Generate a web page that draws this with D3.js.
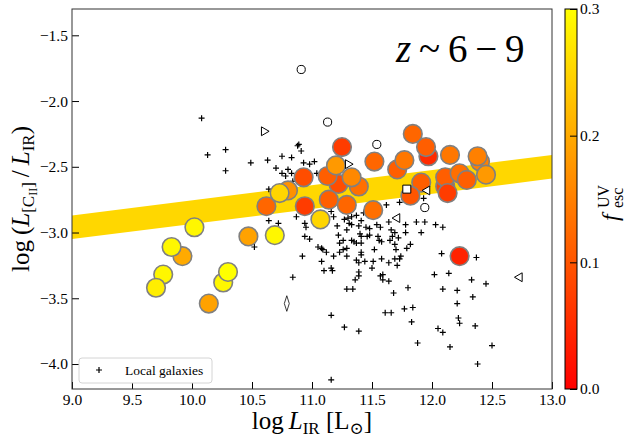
<!DOCTYPE html>
<meta charset="utf-8">
<style>
body { margin: 0; background: #fff; }
text { font-family: "Liberation Serif", "DejaVu Serif", serif; fill: #000; }
</style>
<svg width="635" height="438"></svg>
<script src="https://cdn.jsdelivr.net/npm/d3@7"></script>
<script>

// high-z galaxies: log L_IR, log(L_CII/L_IR), f_esc
var highX = [9.92, 9.83, 10.02, 9.76, 9.70, 10.26, 10.30, 10.14, 10.47, 10.69,
             10.62, 10.80, 10.73, 10.94, 10.93, 11.07, 11.25, 11.22, 11.13, 11.20,
             11.39, 11.33, 11.14, 11.29, 11.51, 11.52, 11.71, 11.77, 11.84, 11.97,
             11.95, 12.15, 12.40, 12.38, 12.45, 12.11, 12.11, 12.13, 12.23, 12.29,
             11.91, 11.82, 12.23];
var highY = [-3.18, -3.11, -2.96, -3.32, -3.42, -3.38, -3.30, -3.54, -3.03, -3.02,
             -2.80, -2.68, -2.70, -2.80, -2.58, -2.90, -2.35, -2.63, -2.57, -2.49,
             -2.65, -2.58, -2.75, -2.79, -2.83, -2.46, -2.52, -2.45, -2.25, -2.42,
             -2.35, -2.41, -2.46, -2.42, -2.56, -2.65, -2.58, -2.70, -2.55, -2.60,
             -2.62, -2.72, -3.18];
var highF = [0.20, 0.29, 0.29, 0.29, 0.28, 0.29, 0.30, 0.19, 0.19, 0.29,
             0.12, 0.17, 0.25, 0.07, 0.09, 0.25, 0.07, 0.09, 0.11, 0.18,
             0.13, 0.16, 0.11, 0.12, 0.13, 0.12, 0.11, 0.14, 0.12, 0.05,
             0.11, 0.14, 0.15, 0.15, 0.18, 0.08, 0.11, 0.07, 0.13, 0.11,
             0.11, 0.10, 0.04];

// local galaxies
var localX = [10.08, 10.13, 10.28, 10.28, 10.49, 10.63, 10.75, 10.83, 10.88, 10.89,
              10.91, 10.70, 10.80, 10.75, 10.78, 10.83, 10.93, 10.98, 11.02, 11.04,
              10.64, 10.84, 10.64, 10.72, 10.52, 10.87, 10.95, 10.94, 10.98, 10.92,
              10.84, 11.05, 11.08, 11.09, 11.12, 11.08, 11.16, 11.18, 11.16, 11.18,
              11.21, 11.22, 11.23, 11.29, 11.26, 11.27, 11.30, 11.31, 11.29, 11.33,
              11.35, 11.26, 11.29, 11.10, 11.17, 11.33, 11.37, 11.39, 11.40, 11.41,
              11.41, 11.41, 11.44, 11.39, 11.39, 11.39, 11.36, 11.29, 11.34, 11.41,
              11.45, 11.47, 11.43, 11.48, 11.51, 11.50, 11.57, 11.58, 11.59, 11.64,
              11.64, 11.52, 11.56, 11.58, 11.54, 11.57, 11.62, 11.73, 11.64, 11.66,
              11.69, 11.67, 11.72, 11.65, 11.69, 11.70, 11.79, 11.82, 11.73, 11.69,
              11.74, 11.71, 11.78, 11.78, 11.87, 11.94, 11.91, 12.03, 12.09, 11.93,
              12.08, 12.02, 12.14, 12.09, 12.21, 12.21, 12.22, 12.23, 12.34, 12.33,
              12.37, 12.45, 12.36, 12.05, 12.09, 12.15, 12.50, 12.38, 11.16, 11.27,
              11.39, 11.16, 11.61, 11.66, 11.68, 11.77, 11.84, 11.83, 11.88, 11.80,
              11.59, 11.55, 11.48, 11.37, 11.23, 11.41, 11.46, 11.37, 11.33, 10.94];
var localY = [-2.13, -2.41, -2.37, -2.53, -2.47, -2.45, -2.42, -2.43, -2.34, -2.33,
              -2.38, -2.51, -2.52, -2.55, -2.57, -2.55, -2.47, -2.48, -2.46, -2.55,
              -2.67, -2.61, -2.91, -2.93, -3.11, -2.88, -2.96, -3.03, -3.05, -3.18,
              -3.34, -3.11, -3.12, -3.13, -3.15, -3.22, -3.27, -3.18, -2.84, -2.88,
              -2.95, -3.02, -3.08, -3.12, -3.06, -2.90, -2.89, -2.93, -2.98, -3.06,
              -3.07, -3.13, -3.18, -3.29, -3.29, -2.88, -2.87, -2.95, -3.01, -3.08,
              -3.15, -3.17, -3.22, -3.23, -3.33, -3.30, -3.36, -3.43, -3.43, -2.91,
              -2.96, -2.87, -2.85, -3.02, -3.22, -3.27, -3.33, -3.20, -3.36, -3.37,
              -3.23, -3.13, -3.06, -3.07, -2.94, -2.96, -2.79, -2.77, -2.92, -2.98,
              -3.00, -3.03, -3.04, -3.06, -3.09, -3.13, -3.12, -3.09, -3.20, -3.20,
              -3.18, -3.25, -2.94, -3.00, -2.92, -2.92, -3.00, -2.94, -2.96, -2.74,
              -3.16, -3.32, -3.31, -3.43, -3.44, -3.54, -3.65, -3.69, -3.49, -3.36,
              -3.19, -3.39, -3.71, -3.73, -3.76, -3.87, -3.86, -4.00, -3.63, -3.72,
              -3.75, -4.12, -3.61, -3.61, -3.46, -3.58, -3.57, -3.68, -3.84, -3.42,
              -3.32, -3.03, -2.97, -3.21, -3.15, -3.03, -3.03, -3.08, -2.94, -2.93];

// other samples (open symbols)
var openCircX = [10.91, 11.13, 11.54, 11.94];
var openCircY = [-1.76, -2.16, -2.33, -2.81];
var rightTriX = [10.60, 11.30];
var rightTriY = [-2.23, -2.48];
var leftTriX = [11.96, 11.71, 12.73];
var leftTriY = [-2.68, -2.89, -3.34];
var squareX = [11.79];
var squareY = [-2.67];
var diamondX = [10.79];
var diamondY = [-3.54];

// relation band
var bandX = [9, 13];
var bandLo = [-3.05, -2.59];
var bandHi = [-2.87, -2.41];

var xTicks = [9.0, 9.5, 10.0, 10.5, 11.0, 11.5, 12.0, 12.5, 13.0];
var yTicks = [-4.0, -3.5, -3.0, -2.5, -2.0, -1.5];
var cTicks = [0.0, 0.1, 0.2, 0.3];

var svg = d3.select("svg");
var mLeft = 72, mRight = 552, mTop = 9, mBottom = 389;

var x = d3.scaleLinear().domain([9, 13]).range([mLeft, mRight]);
var y = d3.scaleLinear().domain([-4.19, -1.3]).range([mBottom, mTop]);
var color = d3.scaleLinear().domain([0, 0.3]).range(["#ff0000", "#ffff00"]);

svg.append("clipPath").attr("id", "clip")
  .append("rect").attr("x", mLeft).attr("y", mTop)
  .attr("width", mRight - mLeft).attr("height", mBottom - mTop);

var g = svg.append("g").attr("clip-path", "url(#clip)");

// band
var band = bandX.map(function(d, i) { return {x: d, lo: bandLo[i], hi: bandHi[i]}; });
g.append("path")
  .datum(band)
  .attr("fill", "#ffd700")
  .attr("d", d3.area().x(function(d) { return x(d.x); })
    .y0(function(d) { return y(d.lo); })
    .y1(function(d) { return y(d.hi); }));

// local galaxies
g.selectAll(".local")
  .data(localX.map(function(d, i) { return [d, localY[i]]; }))
  .enter().append("path")
    .attr("class", "local")
    .attr("d", "M-3,0H3M0,-3V3")
    .attr("stroke", "#000")
    .attr("stroke-width", 1.2)
    .attr("transform", function(d) { return "translate(" + x(d[0]) + "," + y(d[1]) + ")"; });

// high-z
g.selectAll(".hz")
  .data(highX.map(function(d, i) { return {x: d, y: highY[i], f: highF[i]}; }))
  .enter().append("circle")
    .attr("class", "hz")
    .attr("cx", function(d) { return x(d.x); })
    .attr("cy", function(d) { return y(d.y); })
    .attr("r", 9.3)
    .attr("fill", function(d) { return color(d.f); })
    .attr("stroke", "#808080")
    .attr("stroke-width", 1.6);

function marks(xs, ys, type, size, rot, sx) {
  g.selectAll(null)
    .data(xs.map(function(d, i) { return [d, ys[i]]; }))
    .enter().append("path")
      .attr("d", d3.symbol().type(type).size(size))
      .attr("fill", "#fff")
      .attr("stroke", "#000")
      .attr("stroke-width", 1)
      .attr("transform", function(d) {
        return "translate(" + x(d[0]) + "," + y(d[1]) + ") rotate(" + rot + ") scale(" + sx + ",1)";
      });
}
marks(openCircX, openCircY, d3.symbolCircle, 52, 0, 1);
marks(rightTriX, rightTriY, d3.symbolTriangle, 34, 90, 1);
marks(leftTriX, leftTriY, d3.symbolTriangle, 34, -90, 1);
marks(squareX, squareY, d3.symbolSquare, 64, 0, 1);
marks(diamondX, diamondY, d3.symbolDiamond, 70, 0, 0.55);

// axes
var xAxis = svg.append("g")
  .attr("transform", "translate(0," + mBottom + ")")
  .call(d3.axisBottom(x).tickValues(xTicks).tickFormat(d3.format(".1f"))
    .tickSizeInner(-7).tickSizeOuter(0).tickPadding(5));
var yAxis = svg.append("g")
  .attr("transform", "translate(" + mLeft + ",0)")
  .call(d3.axisLeft(y).tickValues(yTicks).tickFormat(d3.format(".1f"))
    .tickSizeInner(-7).tickSizeOuter(0).tickPadding(4));
[xAxis, yAxis].forEach(function(a) {
  a.select(".domain").remove();
  a.selectAll("text").attr("font-family", "Liberation Serif").attr("font-size", 15.5);
  a.selectAll("line").attr("stroke", "#000");
});

svg.append("rect")
  .attr("x", mLeft).attr("y", mTop)
  .attr("width", mRight - mLeft).attr("height", mBottom - mTop)
  .attr("fill", "none").attr("stroke", "#333").attr("stroke-width", 1);

// legend
var lg = svg.append("g");
lg.append("rect")
  .attr("x", 79).attr("y", 358).attr("width", 133).attr("height", 25)
  .attr("rx", 3).attr("fill", "#fff").attr("stroke", "#d4d4d4");
lg.append("path").attr("d", "M96,370H102M99,367V373").attr("stroke", "#000").attr("stroke-width", 1.2);
lg.append("text").attr("x", 125).attr("y", 375).attr("font-size", 13.5).text("Local galaxies");

// redshift label
var zt = svg.append("text").attr("x", 396).attr("y", 62).attr("font-size", 39);
zt.append("tspan").attr("font-style", "italic").text("z");
zt.append("tspan").text("\u2009~\u20096\u2009\u2212\u20099");

// axis titles
var xl = svg.append("text").attr("x", 312).attr("y", 429)
  .attr("text-anchor", "middle").attr("font-size", 25);
xl.append("tspan").text("log\u2009");
xl.append("tspan").attr("font-style", "italic").text("L");
xl.append("tspan").attr("font-size", 17).attr("dy", 5).text("IR");
xl.append("tspan").attr("dy", -5).text(" [L");
xl.append("tspan").attr("font-size", 17).attr("dy", 5).text("\u2299");
xl.append("tspan").attr("dy", -5).text("]");

var yl = svg.append("text")
  .attr("transform", "translate(29,199) rotate(-90)")
  .attr("text-anchor", "middle").attr("font-size", 25);
yl.append("tspan").text("log\u2009(");
yl.append("tspan").attr("font-style", "italic").text("L");
yl.append("tspan").attr("font-size", 17).attr("dy", 5).text("[C");
yl.append("tspan").attr("font-size", 12).attr("dy", 3).text("II");
yl.append("tspan").attr("font-size", 17).attr("dy", -3).text("]");
yl.append("tspan").attr("dy", -5).text("\u2009/\u2009");
yl.append("tspan").attr("font-style", "italic").text("L");
yl.append("tspan").attr("font-size", 17).attr("dy", 5).text("IR");
yl.append("tspan").attr("dy", -5).text(")");

// colorbar
var cbx = 565, cbw = 12;
var cy = d3.scaleLinear().domain([0, 0.3]).range([mBottom, mTop]);
var grad = svg.append("defs").append("linearGradient")
  .attr("id", "cgrad").attr("x1", "0%").attr("y1", "100%").attr("x2", "0%").attr("y2", "0%");
grad.append("stop").attr("offset", "0%").attr("stop-color", color(0));
grad.append("stop").attr("offset", "100%").attr("stop-color", color(0.3));
svg.append("rect")
  .attr("x", cbx).attr("y", mTop).attr("width", cbw).attr("height", mBottom - mTop)
  .attr("fill", "url(#cgrad)").attr("stroke", "#000").attr("stroke-width", 1);
var cAxis = svg.append("g")
  .attr("transform", "translate(" + (cbx + cbw) + ",0)")
  .call(d3.axisRight(cy).tickValues(cTicks).tickFormat(d3.format(".1f"))
    .tickSizeInner(-7).tickSizeOuter(0).tickPadding(3));
cAxis.select(".domain").remove();
cAxis.selectAll("text").attr("font-family", "Liberation Serif").attr("font-size", 15.5);
cAxis.selectAll("line").attr("stroke", "#000");

var cl = svg.append("g").attr("transform", "translate(618,199) rotate(-90)");
cl.append("text").attr("x", -22).attr("y", 0).attr("font-size", 24).attr("font-style", "italic").text("f");
cl.append("text").attr("x", -9).attr("y", -9).attr("font-size", 16).text("UV");
cl.append("text").attr("x", -9).attr("y", 5).attr("font-size", 16).text("esc");

</script>
